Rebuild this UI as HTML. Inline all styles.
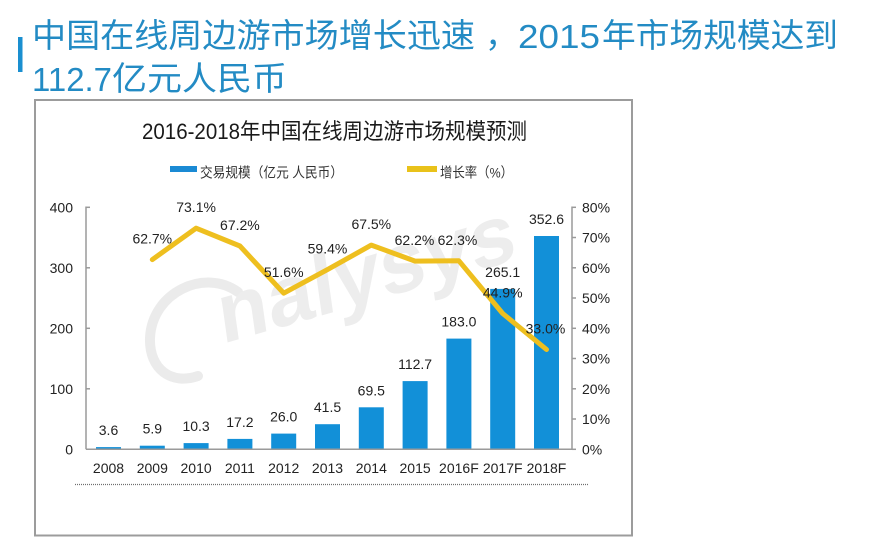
<!DOCTYPE html>
<html>
<head>
<meta charset="utf-8">
<style>
  html,body{margin:0;padding:0;background:#fff;}
  body{width:870px;height:544px;overflow:hidden;}
  svg{display:block;}
  .f{font-family:"Liberation Sans","Noto Sans CJK SC",sans-serif;}
</style>
</head>
<body>
<svg width="870" height="544" viewBox="0 0 870 544" xmlns="http://www.w3.org/2000/svg" class="f">
  <rect x="0" y="0" width="870" height="544" fill="#ffffff"/>

  <!-- Header -->
  <rect x="18" y="37" width="4.5" height="35" fill="#1a8fd0"/>
  <g fill="#238bc4" class="f">
    <text x="32" y="47" font-size="33" textLength="443" lengthAdjust="spacingAndGlyphs">中国在线周边游市场增长迅速</text>
    <text x="485" y="47" font-size="33">，</text>
    <text x="518" y="48" font-size="33" textLength="82" lengthAdjust="spacingAndGlyphs">2015</text>
    <text x="602" y="47" font-size="33" textLength="236" lengthAdjust="spacingAndGlyphs">年市场规模达到</text>
    <text x="32" y="91" font-size="33" textLength="80" lengthAdjust="spacingAndGlyphs">112.7</text>
    <text x="112" y="90" font-size="33" textLength="175" lengthAdjust="spacingAndGlyphs">亿元人民币</text>
  </g>

  <!-- Chart box -->
  <rect x="35" y="100" width="597" height="435.5" fill="#ffffff" stroke="#9c9c9c" stroke-width="2"/>

  <!-- Chart title -->
  <text x="142" y="139" font-size="22" fill="#1a1a1a" textLength="385" lengthAdjust="spacingAndGlyphs">2016-2018年中国在线周边游市场规模预测</text>

  <!-- Legend -->
  <rect x="170" y="166" width="27" height="6" fill="#1a8ad4"/>
  <text x="200" y="177.5" font-size="14" fill="#333" textLength="143" lengthAdjust="spacingAndGlyphs">交易规模（亿元 人民币）</text>
  <rect x="407" y="166" width="30" height="6" fill="#e9c21a"/>
  <text x="440" y="177.5" font-size="14" fill="#333" textLength="73" lengthAdjust="spacingAndGlyphs">增长率（%）</text>

  <!-- Watermark -->
  <g fill="none" stroke="#ebebeb" stroke-width="10" stroke-linecap="round">
    <path d="M 238 292 C 205 268, 152 292, 150 338 C 149 370, 172 385, 198 376"/>
  </g>
  <text transform="translate(222,344) rotate(-16) skewX(-8)" font-size="84" font-weight="bold" fill="#ededed">nalysys</text>

  <!-- Bars -->
  <g fill="#1290d8">
    <rect x="96"    y="447.1" width="25" height="2.2"/>
    <rect x="139.8" y="445.7" width="25" height="3.6"/>
    <rect x="183.6" y="443.1" width="25" height="6.2"/>
    <rect x="227.4" y="438.9" width="25" height="10.4"/>
    <rect x="271.2" y="433.6" width="25" height="15.7"/>
    <rect x="315"   y="424.2" width="25" height="25.1"/>
    <rect x="358.8" y="407.3" width="25" height="42"/>
    <rect x="402.6" y="381.1" width="25" height="68.2"/>
    <rect x="446.4" y="338.6" width="25" height="110.7"/>
    <rect x="490.2" y="288.9" width="25" height="160.4"/>
    <rect x="534"   y="236"   width="25" height="213.3"/>
  </g>

  <!-- Axes -->
  <g stroke="#9a9a9a" stroke-width="1.5" fill="none">
    <line x1="86" y1="206.5" x2="86" y2="449.3"/>
    <line x1="572" y1="206.5" x2="572" y2="449.3"/>
    <line x1="86" y1="449.3" x2="572" y2="449.3"/>
    <line x1="86" y1="207.3" x2="90" y2="207.3"/>
    <line x1="86" y1="267.8" x2="90" y2="267.8"/>
    <line x1="86" y1="328.3" x2="90" y2="328.3"/>
    <line x1="86" y1="388.8" x2="90" y2="388.8"/>
    <line x1="572" y1="207.3" x2="576" y2="207.3"/>
    <line x1="572" y1="237.5" x2="576" y2="237.5"/>
    <line x1="572" y1="267.8" x2="576" y2="267.8"/>
    <line x1="572" y1="298" x2="576" y2="298"/>
    <line x1="572" y1="328.3" x2="576" y2="328.3"/>
    <line x1="572" y1="358.5" x2="576" y2="358.5"/>
    <line x1="572" y1="388.8" x2="576" y2="388.8"/>
    <line x1="572" y1="419" x2="576" y2="419"/>
    <line x1="572" y1="449.3" x2="576" y2="449.3"/>
  </g>

  <!-- Left axis labels -->
  <g font-size="14" fill="#222" text-anchor="end">
    <text x="73" y="212.3">400</text>
    <text x="73" y="272.8">300</text>
    <text x="73" y="333.3">200</text>
    <text x="73" y="393.8">100</text>
    <text x="73" y="454.3">0</text>
  </g>
  <!-- Right axis labels -->
  <g font-size="14" fill="#222">
    <text x="582" y="212.3">80%</text>
    <text x="582" y="242.5">70%</text>
    <text x="582" y="272.8">60%</text>
    <text x="582" y="303">50%</text>
    <text x="582" y="333.3">40%</text>
    <text x="582" y="363.5">30%</text>
    <text x="582" y="393.8">20%</text>
    <text x="582" y="424">10%</text>
    <text x="582" y="454.3">0%</text>
  </g>

  <!-- X labels -->
  <g font-size="14" fill="#222" text-anchor="middle">
    <text x="108.5" y="473">2008</text>
    <text x="152.3" y="473">2009</text>
    <text x="196.1" y="473">2010</text>
    <text x="239.9" y="473">2011</text>
    <text x="283.7" y="473">2012</text>
    <text x="327.5" y="473">2013</text>
    <text x="371.3" y="473">2014</text>
    <text x="415.1" y="473">2015</text>
    <text x="458.9" y="473">2016F</text>
    <text x="502.7" y="473">2017F</text>
    <text x="546.5" y="473">2018F</text>
  </g>

  <!-- Dotted line -->
  <line x1="75" y1="484.5" x2="588" y2="484.5" stroke="#6f6f6f" stroke-width="1.2" stroke-dasharray="1,1"/>

  <!-- Bar value labels -->
  <g font-size="14" fill="#222" text-anchor="middle">
    <text x="108.5" y="435.1">3.6</text>
    <text x="152.3" y="433.7">5.9</text>
    <text x="196.1" y="431.1">10.3</text>
    <text x="239.9" y="426.9">17.2</text>
    <text x="283.7" y="421.6">26.0</text>
    <text x="327.5" y="412.2">41.5</text>
    <text x="371.3" y="395.3">69.5</text>
    <text x="415.1" y="369.1">112.7</text>
    <text x="458.9" y="326.6">183.0</text>
    <text x="502.7" y="276.9">265.1</text>
    <text x="546.5" y="224">352.6</text>
  </g>

  <!-- Growth line -->
  <polyline fill="none" stroke="#eebf1f" stroke-width="5" stroke-linejoin="round" stroke-linecap="round"
    points="152.3,259.6 196.1,228.2 239.9,246 283.7,293.2 327.5,269.6 371.3,245.1 415.1,261.1 458.9,260.8 502.7,313.5 546.5,349.5"/>

  <!-- Percent labels -->
  <g font-size="14" fill="#222" text-anchor="middle">
    <text x="152.3" y="243.6">62.7%</text>
    <text x="196.1" y="212.2">73.1%</text>
    <text x="239.9" y="230">67.2%</text>
    <text x="283.7" y="277.2">51.6%</text>
    <text x="327.5" y="253.6">59.4%</text>
    <text x="371.3" y="229.1">67.5%</text>
    <text x="414.5" y="245.1">62.2%</text>
    <text x="457.5" y="244.8">62.3%</text>
    <text x="502.7" y="297.5">44.9%</text>
    <text x="545.5" y="333.5">33.0%</text>
  </g>
</svg>
</body>
</html>
